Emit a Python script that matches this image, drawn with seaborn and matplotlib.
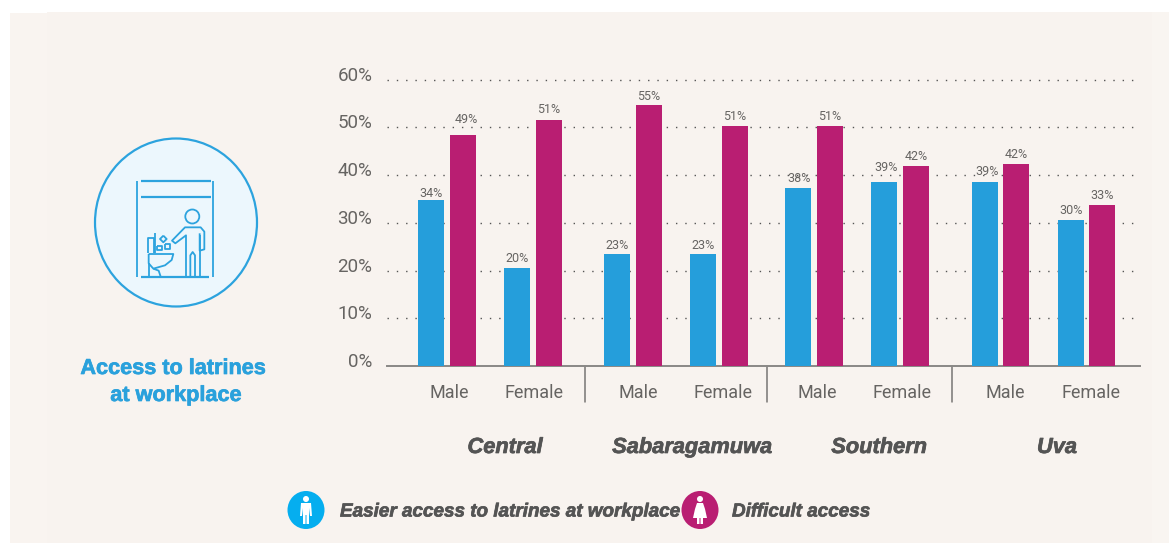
import matplotlib.pyplot as plt
import matplotlib.patches as mpatches
import matplotlib.patheffects as pe
from matplotlib.transforms import ScaledTranslation
import seaborn as sns
import pandas as pd

regions = ['Central', 'Sabaragamuwa', 'Southern', 'Uva']
genders = ['Male', 'Female', 'Male', 'Female', 'Male', 'Female', 'Male', 'Female']
easier_values = [34.7, 20.5, 23.4, 23.4, 37.4, 38.5, 38.5, 30.7]
difficult_values = [48.5, 51.5, 54.6, 50.4, 50.4, 42.0, 42.3, 33.7]
easier_labels = ['34%', '20%', '23%', '23%', '38%', '39%', '39%', '30%']
difficult_labels = ['49%', '51%', '55%', '51%', '51%', '42%', '42%', '33%']
y_ticks = [0, 10, 20, 30, 40, 50, 60]
legend_names = ['Easier access to latrines at workplace', 'Difficult access']

# layout, in reference pixels
group_pos = [447, 533, 633, 719, 814, 900, 1000.5, 1086.5]
tick_pos = [449, 534, 638, 723, 817, 902, 1005, 1091]
region_pos = [505, 692, 879, 1057]
separators = [585, 767, 952]
# the labels in the reference do not sit evenly over the bars
easier_nudge = [(0, -2), (0, 0), (0, 0), (0, 0), (1, 0), (2, 6), (3, 2), (1, 0)]
difficult_nudge = [(3, 6), (0, 1), (0, 0), (0, 0), (0, 0), (0, 0), (0, 0), (0, 0)]

BLUE = '#259EDB'
MAGENTA = '#B91E72'
PANEL = '#F8F3EF'
TEXT = '#666462'
DARK = '#545454'
ICON = '#2CA3DE'
W, H = 1169, 547
HEAVY = ['Liberation Sans', 'DejaVu Sans']

df = pd.DataFrame({
    'pos': group_pos * 2,
    'value': easier_values + difficult_values,
    'access': ['easier'] * 8 + ['difficult'] * 8,
})

sns.set_style('white')
plt.rcParams['font.family'] = ['Roboto', 'DejaVu Sans']

fig = plt.figure(figsize=(W / 100, H / 100), dpi=100, facecolor='white')

# background layer, pixel coordinates
bg = fig.add_axes([0, 0, 1, 1], zorder=0)
bg.set_xlim(0, W)
bg.set_ylim(H, 0)
bg.axis('off')
bg.add_patch(mpatches.Rectangle((10, 13), 38, 530, fc='#F9F4F0', ec='none'))
bg.add_patch(mpatches.Rectangle((47, 12), 1105, 531, fc=PANEL, ec='none'))
bg.add_patch(mpatches.Rectangle((1152, 12), 17, 531, fc='#F9F5F1', ec='none'))

# round icon on the left
bg.add_patch(mpatches.Ellipse((176, 222.5), 162, 168, fc='#ECF7FD', ec=ICON, lw=1.6))


def icon_line(points, lw=1.3):
    xs = [130 + p[0] / 3 for p in points]
    ys = [170 + p[1] / 3 for p in points]
    bg.plot(xs, ys, color=ICON, lw=lw, solid_capstyle='butt', solid_joinstyle='round')


def heavy_text(x, y, s, color, size, ha='center', italic=True):
    t = bg.text(x, y, s, color=color, fontsize=size, fontweight='bold',
                style='italic' if italic else 'normal', family=HEAVY, ha=ha, va='center')
    t.set_path_effects([pe.withStroke(linewidth=0.5, foreground=color)])


icon_line([(20, 32), (20, 322)])
icon_line([(250, 32), (250, 322)])
icon_line([(34, 32), (244, 32)], 1.6)
icon_line([(34, 80), (244, 80)], 1.6)
icon_line([(34, 320), (238, 320)], 1.6)
bg.add_patch(mpatches.Circle((192.3, 216.5), 7, fc='none', ec=ICON, lw=1.3))
icon_line([(168, 320), (168, 196), (136, 220), (126, 212), (165, 172), (212, 172), (223, 185),
           (223, 238), (209, 242), (209, 190)])
icon_line([(209, 195), (209, 320)])
icon_line([(181, 320), (181, 256), (188, 246), (195, 256), (195, 320)])
icon_line([(53, 250), (53, 205), (72, 205), (72, 250)])
icon_line([(75, 190), (75, 250)])
icon_line([(56, 252), (130, 252), (125, 270), (105, 286), (70, 296), (56, 280), (56, 252)])
icon_line([(56, 280), (56, 320)])
icon_line([(70, 296), (86, 302), (92, 320)])
icon_line([(82, 227), (97, 227), (97, 241), (82, 241), (82, 227)])
icon_line([(106, 222), (121, 222), (121, 236), (106, 236), (106, 222)])
icon_line([(100, 197), (110, 207), (100, 217), (90, 207), (100, 197)])

heavy_text(173, 368.5, 'Access to latrines', '#2AA1DC', 15.6, italic=False)
heavy_text(176, 395.5, 'at workplace', '#2AA1DC', 15.6, italic=False)

# legend
for cx, color, female in [(306, '#05AEEF', False), (700, MAGENTA, True)]:
    bg.add_patch(mpatches.Ellipse((cx, 510), 37, 38, fc=color, ec='none'))
    bg.add_patch(mpatches.Circle((cx, 499), 3, fc='white', ec='none'))
    if female:
        body = [(cx - 3, 503), (cx + 3, 503), (cx + 5, 509), (cx + 7, 518), (cx + 3, 518), (cx + 3, 524),
                (cx + 0.5, 524), (cx + 0.5, 518), (cx - 0.5, 518), (cx - 0.5, 524), (cx - 3, 524),
                (cx - 3, 518), (cx - 7, 518), (cx - 5, 509)]
    else:
        body = [(cx - 5, 503), (cx + 5, 503), (cx + 6, 516), (cx + 4, 516), (cx + 3, 508), (cx + 3, 524),
                (cx + 0.5, 524), (cx + 0.5, 515), (cx - 0.5, 515), (cx - 0.5, 524), (cx - 3, 524),
                (cx - 3, 508), (cx - 4, 516), (cx - 6, 516)]
    bg.add_patch(mpatches.Polygon(body, fc='white', ec='none'))
heavy_text(340, 512, legend_names[0], DARK, 13.6, ha='left')
heavy_text(732, 512, legend_names[1], DARK, 13.6, ha='left')

# chart
y_top = 62
px_per_unit = 286.3 / 60
ax_h = y_top * px_per_unit
ax = fig.add_axes([387 / W, (H - 366) / H, 753 / W, ax_h / H], zorder=1)
ax.patch.set_alpha(0)

sns.barplot(
    data=df,
    x='pos',
    y='value',
    hue='access',
    hue_order=['easier', 'difficult'],
    palette={'easier': BLUE, 'difficult': MAGENTA},
    native_scale=True,
    width=0.744,
    gap=0.1875,
    saturation=1,
    errorbar=None,
    legend=False,
    linewidth=0,
    zorder=3,
    ax=ax,
)

for container, labels, nudges in zip(ax.containers, [easier_labels, difficult_labels],
                                     [easier_nudge, difficult_nudge]):
    texts = ax.bar_label(container, labels=labels, padding=2, fontsize=9, color=TEXT, zorder=4)
    for text, (dx, dy) in zip(texts, nudges):
        text.xyann = (dx * 0.72, 2 + dy * 0.72)

ax.set_xlim(387, 1140)
ax.set_ylim(0, y_top)
ax.set_xlabel('')
ax.set_ylabel('')
ax.set_yticks(y_ticks)
ax.set_yticklabels([f'{v}%' for v in y_ticks], fontsize=13.5, color=TEXT)
ax.set_xticks(tick_pos)
ax.set_xticklabels(genders, fontsize=13, color=TEXT)
ax.tick_params(axis='x', length=0, pad=13)
ax.tick_params(axis='y', length=0, pad=10.5)
shift = ScaledTranslation(0, 0.06, fig.dpi_scale_trans)
for label in ax.get_yticklabels():
    label.set_transform(label.get_transform() + shift)

ax.grid(axis='y', color='#555555', lw=1.0, linestyle=(0, (1, 5.7)), zorder=1)
ax.grid(axis='x', visible=False)
ax.set_axisbelow(True)
for side in ['top', 'left', 'right']:
    ax.spines[side].set_visible(False)
ax.spines['bottom'].set_color('#8A8886')
ax.spines['bottom'].set_linewidth(1.4)

# region separators and names
for x in separators:
    bg.plot([x, x], [366, 402], color='#777574', lw=1.1)
for x, name in zip(region_pos, regions):
    heavy_text(x, 447.5, name, DARK, 15.7)

fig.savefig('out.png', dpi=100)
